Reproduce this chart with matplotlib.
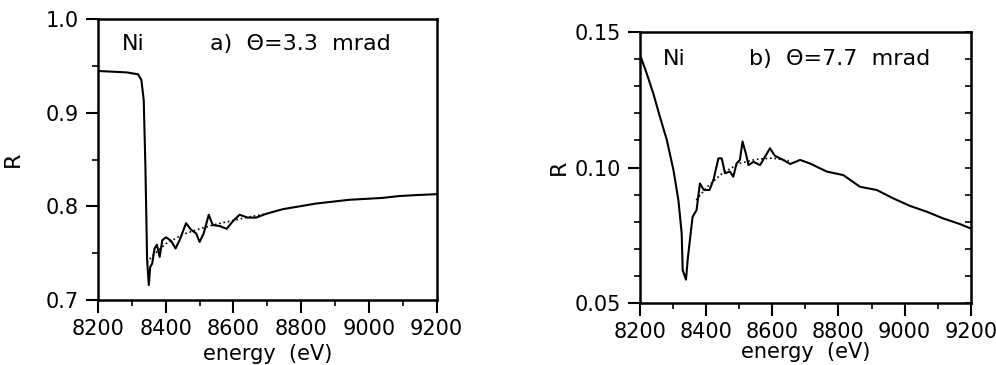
import matplotlib.pyplot as plt
from matplotlib.ticker import MultipleLocator

plt.rcParams['font.family'] = ['DejaVu Sans']

# panel a) Theta = 3.3 mrad, measured (solid) and smoothed (dotted)
E_a = [8200, 8284, 8318, 8328, 8335, 8340, 8345, 8350, 8354, 8360, 8367, 8374,
       8382, 8390, 8401, 8416, 8429, 8441, 8460, 8475, 8490, 8500, 8512, 8527,
       8539, 8559, 8580, 8598, 8618, 8642, 8667, 8696, 8746, 8795, 8844, 8893,
       8942, 8991, 9040, 9090, 9139, 9200]
R_a = [0.9445, 0.943, 0.941, 0.935, 0.9135, 0.842, 0.743, 0.716, 0.735, 0.739,
       0.755, 0.759, 0.746, 0.764, 0.767, 0.763, 0.755, 0.764, 0.782, 0.775,
       0.771, 0.762, 0.771, 0.791, 0.780, 0.779, 0.776, 0.784, 0.791, 0.788,
       0.788, 0.792, 0.797, 0.800, 0.803, 0.805, 0.807, 0.808, 0.809, 0.811,
       0.812, 0.813]
E_a_fit = [8345, 8360, 8400, 8450, 8500, 8550, 8600, 8650, 8700]
R_a_fit = [0.740, 0.747, 0.760, 0.770, 0.776, 0.781, 0.785, 0.789, 0.792]

# panel b) Theta = 7.7 mrad
E_b = [8200, 8220, 8240, 8260, 8281, 8301, 8316, 8326, 8329, 8339, 8344, 8353,
       8359, 8371, 8381, 8393, 8410, 8422, 8437, 8447, 8457, 8472, 8482, 8492,
       8502, 8510, 8520, 8528, 8543, 8563, 8578, 8593, 8608, 8633, 8654, 8684,
       8714, 8765, 8815, 8865, 8916, 8966, 9017, 9067, 9117, 9168, 9200]
R_b = [0.1416, 0.1348, 0.1274, 0.1188, 0.1102, 0.0991, 0.0880, 0.0756, 0.0621,
       0.0586, 0.0658, 0.0756, 0.0818, 0.0843, 0.0941, 0.0917, 0.0917, 0.0954,
       0.1034, 0.1034, 0.0979, 0.0985, 0.0966, 0.1015, 0.1028, 0.1096, 0.1052,
       0.1009, 0.1021, 0.1009, 0.1040, 0.1071, 0.1043, 0.1028, 0.1013, 0.1028,
       0.1015, 0.0985, 0.0972, 0.0929, 0.0917, 0.0886, 0.0858, 0.0837, 0.0812,
       0.0791, 0.0775]
E_b_fit = [8370, 8400, 8450, 8500, 8550, 8600, 8650]
R_b_fit = [0.0880, 0.0925, 0.0980, 0.1015, 0.1030, 0.1035, 0.1025]

fig = plt.figure(figsize=(9.96, 3.65), dpi=100)
ax1 = fig.add_axes([0.0984, 0.178, 0.340, 0.770])
ax2 = fig.add_axes([0.6426, 0.170, 0.332, 0.742])


def style(ax, ylim, ymaj, ymin, yfmt):
    ax.set_xlim(8200, 9200)
    ax.set_ylim(*ylim)
    ax.xaxis.set_major_locator(MultipleLocator(200))
    ax.xaxis.set_minor_locator(MultipleLocator(100))
    ax.yaxis.set_major_locator(MultipleLocator(ymaj))
    ax.yaxis.set_minor_locator(MultipleLocator(ymin))
    ax.yaxis.set_major_formatter(yfmt)
    for s in ax.spines.values():
        s.set_linewidth(1.8)
    ax.tick_params(which='major', direction='out', length=9, width=1.5,
                   labelsize=15, pad=5)
    ax.tick_params(which='minor', direction='out', length=4, width=1.2)


ax1.plot(E_a, R_a, color='black', lw=1.5)
ax1.plot(E_a_fit, R_a_fit, color='black', lw=1.2, ls=':')
style(ax1, (0.7, 1.0), 0.1, 0.05, '{x:.1f}')
ax1.set_xlabel('energy  (eV)', fontsize=15, labelpad=3)
ax1.set_ylabel('R', fontsize=16, labelpad=16)
ax1.text(0.07, 0.91, 'Ni', transform=ax1.transAxes, fontsize=16, va='center')
ax1.text(0.33, 0.91, 'a)  Θ=3.3  mrad', transform=ax1.transAxes, fontsize=16,
         va='center')

ax2.plot(E_b, R_b, color='black', lw=1.5)
ax2.plot(E_b_fit, R_b_fit, color='black', lw=1.2, ls=':')
style(ax2, (0.05, 0.15), 0.05, 0.01, '{x:.2f}')
ax2.set_xlabel('energy  (eV)', fontsize=15, labelpad=0)
ax2.set_ylabel('R', fontsize=16, labelpad=4)
ax2.text(0.07, 0.90, 'Ni', transform=ax2.transAxes, fontsize=16, va='center')
ax2.text(0.33, 0.90, 'b)  Θ=7.7  mrad', transform=ax2.transAxes, fontsize=16,
         va='center')

# small inward ticks on the right spine of panel b
sec = ax2.secondary_yaxis('right')
sec.yaxis.set_major_locator(MultipleLocator(0.05))
sec.yaxis.set_minor_locator(MultipleLocator(0.01))
sec.tick_params(which='both', direction='in', length=4, width=1.2,
                labelright=False)

fig.savefig('out.png', dpi=100)
